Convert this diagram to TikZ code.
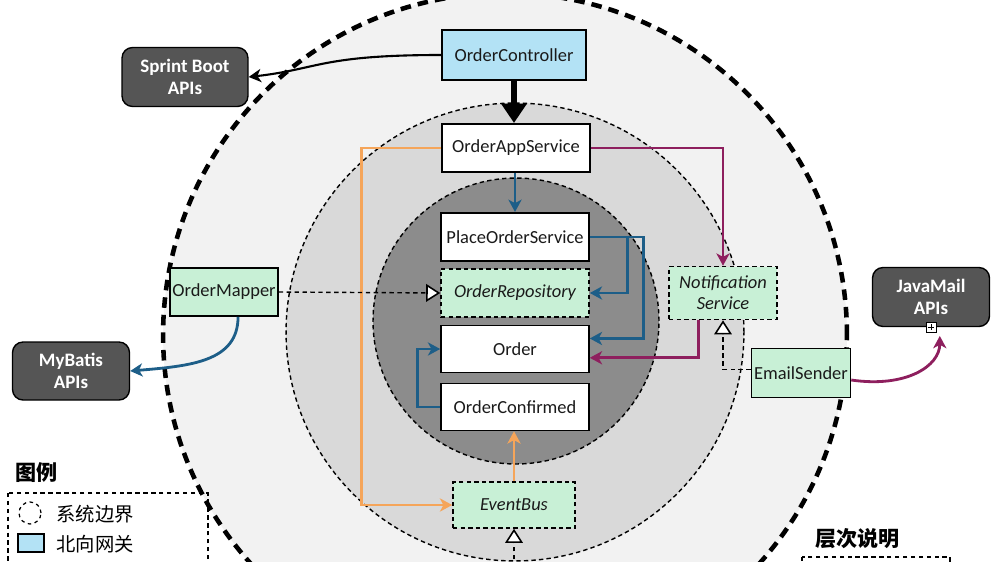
\documentclass[tikz,border=0pt]{standalone}
\usepackage{fontspec}
\setmainfont{Carlito}
\newfontfamily\cjk{Noto Sans CJK SC}
\usetikzlibrary{arrows.meta}
\definecolor{outerfill}{HTML}{F2F2F2}
\definecolor{midfill}{HTML}{D9D9D9}
\definecolor{innerfill}{HTML}{8C8C8C}
\definecolor{gatefill}{HTML}{B3E2F5}
\definecolor{greenfill}{HTML}{C8F0D6}
\definecolor{darkbox}{HTML}{555555}
\definecolor{lblue}{HTML}{1D5E88}
\definecolor{lpurple}{HTML}{8E1F5E}
\definecolor{lorange}{HTML}{F5A55A}
\definecolor{txt}{HTML}{1A1A1A}
\tikzset{
  box/.style={draw=black, line width=0.9pt, fill=white, text=txt, inner sep=0pt,
    minimum width=2.96cm, minimum height=0.97cm, font=\fontsize{10.5}{12}\selectfont, align=center},
  gatebox/.style={box, fill=gatefill},
  greenbox/.style={box, fill=greenfill},
  ifacebox/.style={box, fill=greenfill, dashed, dash pattern=on 2.5pt off 1.8pt, font=\fontsize{10.5}{12}\selectfont\itshape},
  extbox/.style={draw=black, line width=0.8pt, fill=darkbox, rounded corners=6pt, text=white,
    inner sep=0pt, align=center, font=\fontsize{10.8}{12.8}\selectfont\bfseries},
  conn/.style={line width=1.6pt, -{Stealth[length=7pt,width=7.5pt,inset=2pt]}},
  realize/.style={line width=0.8pt, dashed, dash pattern=on 2.5pt off 2pt,
    -{Triangle[open, fill=white, length=8pt, width=10pt, line width=0.9pt]}},
  ring/.style={dashed, line width=0.8pt, dash pattern=on 2.5pt off 1.8pt},
}
\begin{document}
\begin{tikzpicture}[x=0.02cm, y=-0.02cm]
\useasboundingbox (0,0) rectangle (1000,561);
\clip (0,0) rectangle (1000,561);
\fill[white] (0,0) rectangle (1000,561);
% rings
\fill[outerfill] (505,335) circle (6.84cm);
\draw[line width=2.6pt, dash pattern=on 6pt off 4pt] (505,335) circle (6.84cm);
\fill[midfill] (515,332) circle (4.58cm);
\draw[ring] (515,332) circle (4.58cm);
\fill[innerfill] (516,321) circle (2.86cm);
\draw[ring] (516,321) circle (2.86cm);

% nodes
\node[gatebox, minimum width=2.88cm, minimum height=1.0cm] (ctrl) at (514,55) {OrderController};
\node[box] (app) at (516,148) {OrderAppService};
\node[box] (pos) at (515,237) {PlaceOrderService};
\node[ifacebox] (repo) at (515,293) {OrderRepository};
\node[box, minimum height=0.94cm] (order) at (515,349) {Order};
\node[box, minimum height=0.94cm] (conf) at (515,407) {OrderConfirmed};
\node[ifacebox, minimum width=2.44cm, minimum height=0.92cm] (bus) at (514,505) {EventBus};
\node[ifacebox, minimum width=2.16cm, minimum height=1.06cm] (notif) at (723,293) {Notification\\Service};
\node[greenbox, minimum width=1.98cm, minimum height=0.98cm] (email) at (801,373) {EmailSender};
\node[greenbox, minimum width=2.16cm, minimum height=0.96cm] (mapper) at (224,292) {OrderMapper};
\node[extbox, minimum width=2.52cm, minimum height=1.18cm] (spring) at (185,77) {Sprint Boot\\APIs};
\node[extbox, minimum width=2.34cm, minimum height=1.16cm] (mybatis) at (71,371) {MyBatis\\APIs};
\node[extbox, minimum width=2.34cm, minimum height=1.18cm] (java) at (931,297) {JavaMail\\APIs};
\node[draw=black, fill=white, line width=0.5pt, minimum size=0.2cm, inner sep=0pt] (jmark) at (931,327) {};
\draw[line width=0.5pt] ([xshift=-1.8pt]jmark.center) -- ([xshift=1.8pt]jmark.center)
  ([yshift=-1.8pt]jmark.center) -- ([yshift=1.8pt]jmark.center);

% connectors
\draw[line width=1.2pt, -{Stealth[length=7pt,width=7.5pt,inset=2pt]}] (ctrl.west)
  .. controls +(-120,0) and +(70,-8) .. (spring.east);
\draw[line width=3.6pt, -{Triangle[length=11pt,width=14pt]}] (ctrl.south) -- (app.north -| ctrl.south);
\draw[conn, lblue] (app.south -| pos.north) -- (pos.north);
\draw[conn, lblue] (pos.east) -- ++(38,0) |- (repo.east);
\draw[conn, lblue] (pos.east) -- ++(54,0) |- ([yshift=6pt]order.east);
\draw[conn, lblue] (conf.west) -- ++(-23,0) |- (order.west);
\draw[conn, lpurple] (app.east) -| (notif.north);
\draw[conn, lpurple] ([xshift=-14pt]notif.south) |- ([yshift=-5pt]order.east);
\draw[conn, lpurple] ([yshift=-4pt]email.east)
  .. controls +(55,8) and +(0,30) .. ([xshift=5pt,yshift=-2pt]jmark.south);
\draw[conn, lblue] ([xshift=8pt]mapper.south)
  .. controls +(0,45) and +(60,-5) .. (mybatis.east);
\draw[conn, lorange] (app.west) -- ++(-80,0) |- (bus.west);
\draw[conn, lorange] (bus.north) -- (bus.north |- conf.south);
\draw[realize] (mapper.east) -- (repo.west);
\draw[realize] ([yshift=2pt]email.west) -| (notif.south);
\coordinate (busin) at (514,575);
\draw[realize] (busin) -- (bus.south);

% legend
\node[font=\cjk\bfseries\fontsize{12}{14}\selectfont, anchor=west, inner sep=0pt] (legt) at (15,473) {图例};
\draw[dashed, line width=0.8pt, dash pattern=on 2.5pt off 2pt] (8,493) rectangle (208,600);
\draw[dashed, line width=0.7pt, dash pattern=on 2pt off 2pt] (30,513) circle (0.22cm);
\node[font=\cjk\fontsize{11}{13}\selectfont, anchor=west, inner sep=0pt] (leg1) at (56,514) {系统边界};
\node[draw=black, fill=gatefill, line width=0.8pt, minimum width=0.52cm, minimum height=0.36cm, inner sep=0pt] (legbox) at (31,543) {};
\node[font=\cjk\fontsize{11}{13}\selectfont, anchor=west, inner sep=0pt] (leg2) at (56,544) {北向网关};

\node[font=\cjk\bfseries\fontsize{12}{14}\selectfont, anchor=west, inner sep=0pt] (layt) at (815,539) {层次说明};
\draw[dashed, line width=0.8pt, dash pattern=on 2.5pt off 2pt] (802,557) rectangle (950,600);
\end{tikzpicture}
\end{document}
